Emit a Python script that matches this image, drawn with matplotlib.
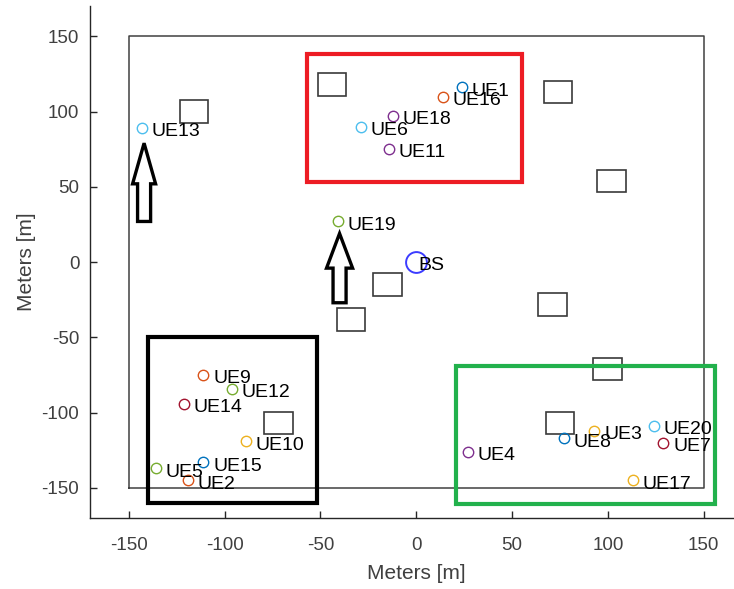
import matplotlib.pyplot as plt
from matplotlib.patches import Rectangle, Polygon

plt.rcParams['font.family'] = ['Liberation Sans', 'DejaVu Sans']
plt.rcParams['axes.unicode_minus'] = False

# user equipment positions [m]
ue_x = [24, -119, 93, 27, -136, -29, 129, 77, -111, -89,
        -14, -96, -143, -121, -111, 14, 113, -12, -41, 124]
ue_y = [116, -145, -112, -126, -137, 90, -120, -117, -75, -119,
        75, -84, 89, -94, -133, 110, -145, 97, 27, -109]
ue_names = ['UE%d' % (i + 1) for i in range(len(ue_x))]

# base station
bs_x, bs_y = 0, 0

# building centres [m], each 15 x 15 m
bld_x = [-116, -44, 74, 102, -15, -34, 71, 100, 75, -72]
bld_y = [100, 118, 113, 54, -15, -38, -28, -71, -107, -107]
bld_size = 15

# simulation area
area_half = 150

# highlighted groups: (x0, y0, x1, y1, colour)
groups = [
    (-57, 53, 55, 138, '#ed1c24'),
    (-140, -160, -52, -50, '#000000'),
    (21, -161, 156, -69, '#22b14c'),
]

# block arrows: (x centre, base y, head base y, tip y, head half width)
arrows = [
    (-142, 27, 52, 79, 6.0),
    (-40, -27, -4, 19, 6.8),
]

matlab_colors = ['#0072bd', '#d95319', '#edb120', '#7e2f8e',
                 '#77ac30', '#4dbeee', '#a2142f']

fig = plt.figure(figsize=(7.34, 5.89), dpi=100)
ax = fig.add_axes([0.1232, 0.1205, 0.8877, 0.869])

# area border
ax.plot([-area_half, area_half, area_half, -area_half, -area_half],
        [-area_half, -area_half, area_half, area_half, -area_half],
        color='#404040', lw=1.1, zorder=1)

for bx, by in zip(bld_x, bld_y):
    ax.add_patch(Rectangle((bx - bld_size / 2, by - bld_size / 2), bld_size, bld_size,
                           fill=False, ec='#3a3a3a', lw=1.2, zorder=2))

for i, (x, y, name) in enumerate(zip(ue_x, ue_y, ue_names)):
    c = matlab_colors[i % len(matlab_colors)]
    ax.plot(x, y, 'o', mfc='none', mec=c, ms=7.5, mew=1.0, zorder=3)
    ax.text(x + 5, y - 2.5, name, fontsize=14, va='center', ha='left', zorder=4)

ax.plot(bs_x, bs_y, 'o', mfc='none', mec='#3c3cff', ms=15, mew=1.4, zorder=3)
ax.text(bs_x + 1, bs_y - 2.5, 'BS', fontsize=14, va='center', ha='left', zorder=4)

for x0, y0, x1, y1, c in groups:
    ax.add_patch(Rectangle((x0, y0), x1 - x0, y1 - y0, fill=False,
                           ec=c, lw=3, zorder=5, clip_on=False))

sw = 3.4
for cx, by, hy, ty, hw in arrows:
    pts = [(cx - sw, by), (cx + sw, by), (cx + sw, hy), (cx + hw, hy),
           (cx, ty), (cx - hw, hy), (cx - sw, hy)]
    ax.add_patch(Polygon(pts, closed=True, fill=False, ec='black', lw=2.4,
                         joinstyle='miter', zorder=5))

ax.set_xlim(-170, 170)
ax.set_ylim(-170, 170)
ax.set_xticks(range(-150, 151, 50))
ax.set_yticks(range(-150, 151, 50))
ax.spines['top'].set_visible(False)
ax.spines['right'].set_visible(False)
for s in ('left', 'bottom'):
    ax.spines[s].set_color('#262626')
    ax.spines[s].set_linewidth(1.0)
ax.tick_params(direction='in', length=5, width=1.0, colors='#262626',
               labelsize=13.5, labelcolor='#404040')
ax.tick_params(axis='x', pad=14)
ax.tick_params(axis='y', pad=8)
ax.set_xlabel('Meters [m]', fontsize=15, color='#404040', labelpad=7)
ax.set_ylabel('Meters [m]', fontsize=15, color='#404040', labelpad=4)

fig.savefig('out.png', dpi=100)
